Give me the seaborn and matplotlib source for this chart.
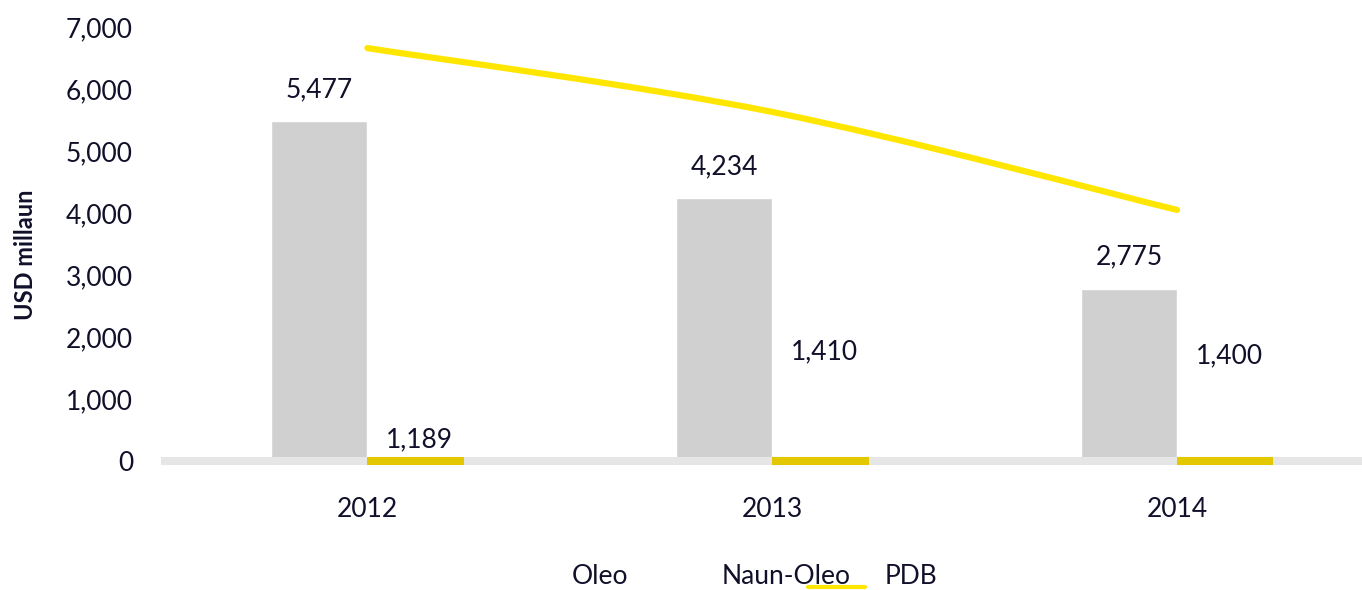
import numpy as np
import pandas as pd
import matplotlib
matplotlib.use("Agg")
import matplotlib.pyplot as plt
from matplotlib.path import Path
from matplotlib.patches import PathPatch
from matplotlib.lines import Line2D
import seaborn as sns

# chart values
years = ["2012", "2013", "2014"]
oleo = [5477, 4234, 2775]
naun_oleo = [1189, 1410, 1400]
pdb = [6660, 5630, 4050]
yticks = [0, 1000, 2000, 3000, 4000, 5000, 6000, 7000]

GREY = "#d0d0d0"
STRIP = "#e3c800"
LINE = "#ffe600"
BAND = "#e6e6e6"
TXT = "#10102a"
FS = 19

sns.set_theme(style="white")
plt.rcParams["font.family"] = ["Lato", "DejaVu Sans"]

df = pd.DataFrame({
    "year": years * 2,
    "series": ["Oleo"] * 3 + ["Naun-Oleo"] * 3,
    "value": oleo + [np.nan] * 3,
})

fig = plt.figure(figsize=(13.62, 5.90), dpi=100)
ax = fig.add_axes([165 / 1362, (590 - 461) / 590, 1 - 165 / 1362, (461 - 27) / 590])

bw = 0.238
sns.barplot(data=df, x="year", y="value", hue="series", hue_order=["Oleo", "Naun-Oleo"],
            palette=[GREY, STRIP], width=2 * bw, dodge=True, legend=False,
            saturation=1, ax=ax, zorder=1)

ax.set_xlim(-0.5, 2.457)
ax.set_ylim(0, 7000)
ax.set_yticks(yticks)
ax.set_yticklabels([f"{v:,}" for v in yticks], fontsize=FS, color=TXT)
ax.set_xticks(range(len(years)))
ax.set_xticklabels(years, fontsize=FS, color=TXT)
ax.tick_params(axis="y", length=0, pad=23)
ax.tick_params(axis="x", length=0, pad=26)
ax.set_xlabel("")
ax.set_ylabel("USD millaun", fontsize=17, fontweight="bold", color=TXT)
ax.yaxis.set_label_coords(-128 / 1197, 0.475)

for s in ["top", "right", "left"]:
    ax.spines[s].set_visible(False)
ax.spines["bottom"].set_color(BAND)
ax.spines["bottom"].set_linewidth(5.8)

# Naun-Oleo bars show only as flat strips on the axis line
for i in range(len(years)):
    ax.hlines(0, i, i + bw, color=STRIP, lw=5.8, zorder=3, clip_on=False)

# Oleo labels
for i, v in enumerate(oleo):
    ax.annotate(f"{v:,}", (i - bw / 2, v), xytext=(0, 23), textcoords="offset points",
                ha="center", va="center", fontsize=FS, color=TXT)

# Naun-Oleo labels sit on a hidden secondary scale
ax2 = ax.twinx()
ax2.set_ylim(1136, 2226)
ax2.axis("off")
for i, v in enumerate(naun_oleo):
    ax2.text(i + bw / 2 + 0.01, v, f"{v:,}", ha="center", va="center", fontsize=FS, color=TXT)

# smoothed PDB line (Catmull-Rom through the data points)
pts = np.column_stack([np.arange(len(pdb)), pdb]).astype(float)
verts = [pts[0]]
codes = [Path.MOVETO]
for k in range(len(pts) - 1):
    p_prev = pts[max(k - 1, 0)]
    p0, p1 = pts[k], pts[k + 1]
    p_next = pts[min(k + 2, len(pts) - 1)]
    verts += [p0 + (p1 - p_prev) / 6, p1 - (p_next - p0) / 6, p1]
    codes += [Path.CURVE4] * 3
ax.add_patch(PathPatch(Path(verts, codes), facecolor="none", edgecolor=LINE,
                       lw=4.5, capstyle="round", zorder=4))

# legend as it appears in the reference
fig.text(572 / 1362, 1 - 577 / 590, "Oleo", fontsize=FS, color=TXT, va="center", ha="left")
fig.text(722 / 1362, 1 - 577 / 590, "Naun-Oleo", fontsize=FS, color=TXT, va="center", ha="left")
fig.text(885 / 1362, 1 - 577 / 590, "PDB", fontsize=FS, color=TXT, va="center", ha="left")
fig.add_artist(Line2D([808 / 1362, 865 / 1362], [1 - 587 / 590, 1 - 587 / 590],
                      color=LINE, lw=3, solid_capstyle="round", transform=fig.transFigure))

fig.savefig("out.png", dpi=100)
